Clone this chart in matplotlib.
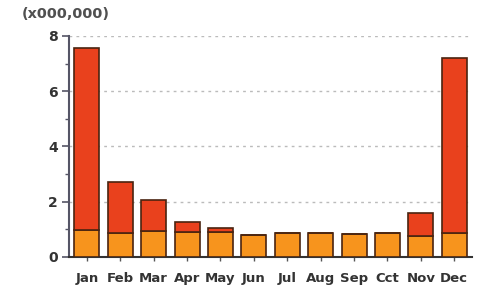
import matplotlib
matplotlib.use("Agg")
import matplotlib.pyplot as plt
from matplotlib.ticker import MultipleLocator

# values in millions
months = ["Jan", "Feb", "Mar", "Apr", "May", "Jun", "Jul", "Aug", "Sep", "Cct", "Nov", "Dec"]
base = [0.96, 0.87, 0.95, 0.92, 0.90, 0.80, 0.88, 0.88, 0.82, 0.88, 0.74, 0.86]
total = [7.57, 2.72, 2.07, 1.26, 1.04, 0.80, 0.88, 0.88, 0.82, 0.88, 1.60, 7.20]
extra = [t - b for t, b in zip(total, base)]

fig = plt.figure(figsize=(4.85, 2.9), dpi=100)
ax = fig.add_axes([0.142, 0.114, 0.831, 0.762])

x = range(len(months))
edge = "#4a2410"
ax.bar(x, base, width=0.75, color="#F7941D", edgecolor=edge, linewidth=1.2, zorder=3)
ax.bar(x, extra, width=0.75, bottom=base, color="#E9411D", edgecolor=edge, linewidth=1.2, zorder=3)

ax.set_xlim(-0.54, 11.53)
ax.set_ylim(0, 8)
ax.set_yticks([0, 2, 4, 6, 8])
ax.yaxis.set_minor_locator(MultipleLocator(1))
ax.set_xticks(list(x))
ax.set_xticklabels(months)

for y in [2, 4, 6, 8]:
    ax.axhline(y, color="#bbbbbb", linestyle=(0, (2, 3)), linewidth=1.0, zorder=1)

for s in ["top", "right"]:
    ax.spines[s].set_visible(False)
ax.spines["left"].set_color("#555566")
ax.spines["bottom"].set_color("#333333")
ax.spines["left"].set_linewidth(1.5)
ax.spines["bottom"].set_linewidth(1.5)

ax.tick_params(axis="y", which="major", length=5, width=1.2, color="#555566",
               labelsize=10, labelcolor="#333333", pad=3)
ax.tick_params(axis="y", which="minor", length=3, width=1.0, color="#555566")
ax.tick_params(axis="x", length=3, width=1.0, color="#555555",
               labelsize=9.5, labelcolor="#333333", pad=8)
for lbl in ax.get_xticklabels() + ax.get_yticklabels():
    lbl.set_fontweight("bold")

fig.text(0.045, 0.95, "(x000,000)", fontsize=10.4, fontweight="bold", color="#505050",
         ha="left", va="center")

fig.savefig("out.png", dpi=100)
